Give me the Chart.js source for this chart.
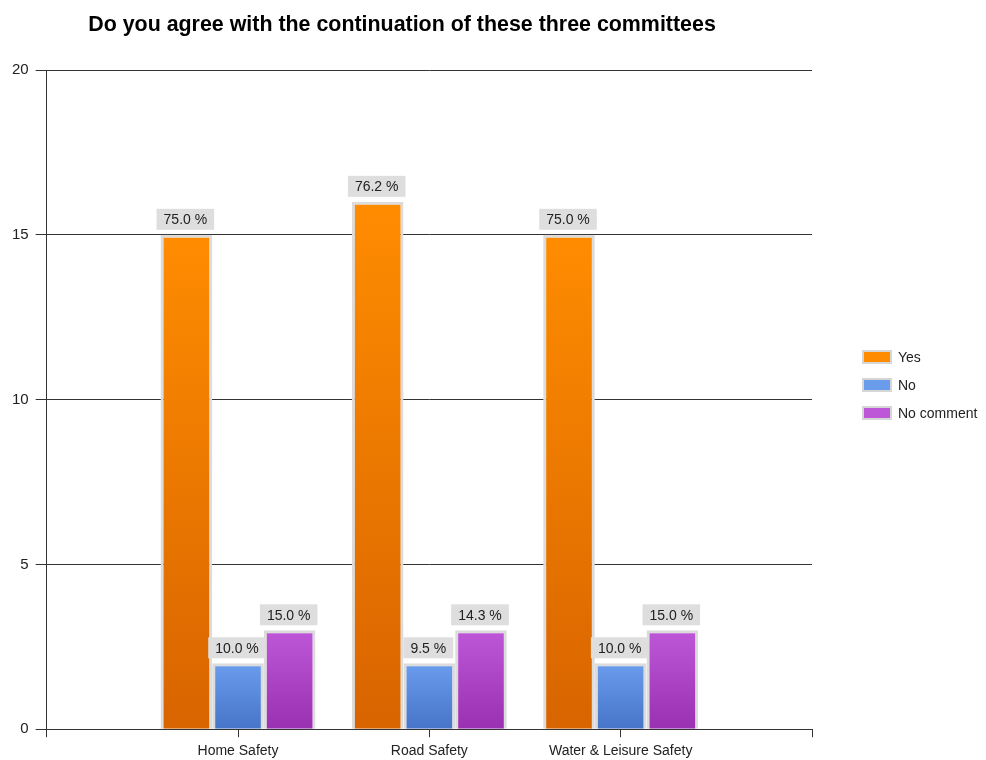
<!DOCTYPE html>
<html>
<head>
<meta charset="utf-8">
<script src="https://cdn.jsdelivr.net/npm/chart.js@4"></script>
<style>
  html, body { margin: 0; padding: 0; background: #fff; }
  #wrap { width: 986px; height: 760px; }
</style>
</head>
<body>
<div id="wrap"><canvas id="barra" width="986" height="760"></canvas></div>
<script>
// data
var categories = ['', 'Home Safety', 'Road Safety', 'Water & Leisure Safety', ''];
var seriesNames = ['Yes', 'No', 'No comment'];
var yesValues = [null, 15, 16, 15, null];
var noValues = [null, 2, 2, 2, null];
var noCommentValues = [null, 3, 3, 3, null];
var yesLabels = ['', '75.0 %', '76.2 %', '75.0 %', ''];
var noLabels = ['', '10.0 %', '9.5 %', '10.0 %', ''];
var noCommentLabels = ['', '15.0 %', '14.3 %', '15.0 %', ''];
var yTicks = [0, 5, 10, 15, 20];

var FONT = "'Liberation Sans', Arial, sans-serif";
var colors = [
    ['#ff8c00', '#d86400'],
    ['#6a9cec', '#4775c9'],
    ['#bd57d8', '#9a30b2']
];

function barGradient(idx) {
    return function (c) {
        var chart = c.chart;
        if (!chart.chartArea || !c.parsed || c.parsed.y == null) return colors[idx][0];
        var y = chart.scales.y;
        var top = y.getPixelForValue(c.parsed.y);
        var bottom = y.getPixelForValue(0);
        var g = chart.ctx.createLinearGradient(0, top, 0, bottom);
        g.addColorStop(0, colors[idx][0]);
        g.addColorStop(1, colors[idx][1]);
        return g;
    };
}

var valueLabels = [yesLabels, noLabels, noCommentLabels];

var labelPlugin = {
    id: 'valueLabels',
    afterDatasetsDraw: function (chart) {
        var ctx = chart.ctx;
        ctx.save();
        ctx.font = '14px ' + FONT;
        ctx.textAlign = 'center';
        ctx.textBaseline = 'middle';
        chart.data.datasets.forEach(function (ds, i) {
            var meta = chart.getDatasetMeta(i);
            meta.data.forEach(function (bar, j) {
                var txt = valueLabels[i][j];
                if (!txt) return;
                var w = ctx.measureText(txt).width + 14;
                var h = 21;
                var bx = bar.x - 1 - w / 2;
                var by = bar.y - 5 - h;
                ctx.fillStyle = '#dedede';
                ctx.fillRect(bx, by, w, h);
                ctx.fillStyle = '#222';
                ctx.fillText(txt, bar.x - 1, by + h / 2 + 1);
            });
        });
        ctx.restore();
    }
};

// title and legend drawn on the canvas
var decorPlugin = {
    id: 'decor',
    afterDraw: function (chart) {
        var ctx = chart.ctx;
        ctx.save();
        ctx.font = 'bold 21.4px ' + FONT;
        ctx.fillStyle = '#000';
        ctx.textAlign = 'center';
        ctx.textBaseline = 'middle';
        ctx.fillText('Do you agree with the continuation of these three committees', 402, 25);

        ctx.font = '14px ' + FONT;
        ctx.textAlign = 'left';
        seriesNames.forEach(function (n, i) {
            var cy = 357 + i * 28;
            ctx.fillStyle = colors[i][0];
            ctx.fillRect(863, cy - 6, 28, 12);
            ctx.strokeStyle = '#d6d6d6';
            ctx.lineWidth = 2;
            ctx.strokeRect(863, cy - 6, 28, 12);
            ctx.fillStyle = '#222';
            ctx.fillText(n, 898, cy + 1);
        });
        ctx.restore();
    }
};

var ctx = document.getElementById('barra');
var barra = new Chart(ctx, {
    type: 'bar',
    data: {
        labels: categories,
        datasets: [
            { label: seriesNames[0], data: yesValues, backgroundColor: barGradient(0) },
            { label: seriesNames[1], data: noValues, backgroundColor: barGradient(1) },
            { label: seriesNames[2], data: noCommentValues, backgroundColor: barGradient(2) }
        ].map(function (d) {
            d.borderColor = '#dcdcdc';
            d.borderWidth = 3;
            d.barPercentage = 1;
            d.categoryPercentage = 0.81;
            return d;
        })
    },
    options: {
        responsive: false,
        animation: false,
        layout: { padding: { top: 70, left: 5, right: 174, bottom: -6 } },
        plugins: {
            title: { display: false },
            tooltip: { enabled: false },
            legend: { display: false }
        },
        scales: {
            x: {
                offset: false,
                grid: { offset: false, drawOnChartArea: false, drawTicks: true, tickLength: 8, color: '#333' },
                border: { color: '#333', width: 1 },
                ticks: { font: { size: 14, family: FONT }, color: '#222', autoSkip: false, maxRotation: 0, padding: 6 }
            },
            y: {
                min: 0,
                max: 20,
                afterBuildTicks: function (axis) {
                    axis.ticks = yTicks.map(function (v) { return { value: v }; });
                },
                grid: { color: '#333', tickLength: 11 },
                border: { color: '#333', width: 1 },
                ticks: { font: { size: 15, family: FONT }, color: '#222', padding: 7 }
            }
        }
    },
    plugins: [labelPlugin, decorPlugin]
});
</script>
</body>
</html>
